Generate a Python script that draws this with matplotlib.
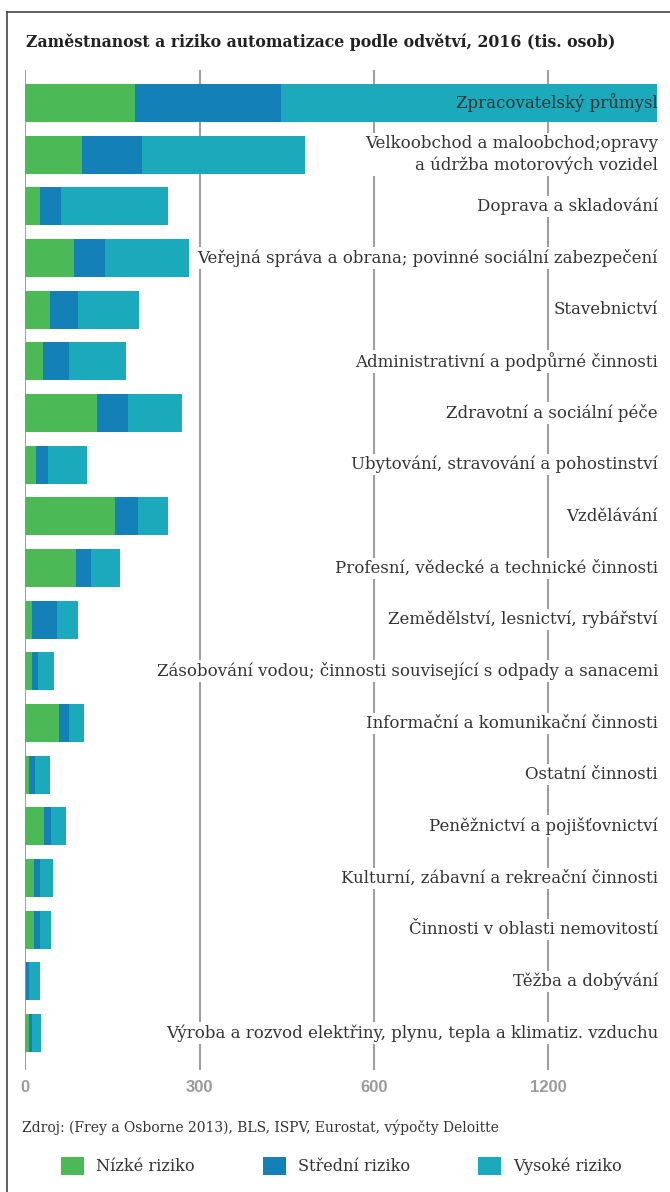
import matplotlib
matplotlib.use("Agg")
import matplotlib.pyplot as plt
from matplotlib.lines import Line2D

plt.rcParams['font.family'] = ['DejaVu Serif']

# odvětví, shora dolů
odvetvi = [
    'Zpracovatelský průmysl',
    'Velkoobchod a maloobchod;opravy\na údržba motorových vozidel',
    'Doprava a skladování',
    'Veřejná správa a obrana; povinné sociální zabezpečení',
    'Stavebnictví',
    'Administrativní a podpůrné činnosti',
    'Zdravotní a sociální péče',
    'Ubytování, stravování a pohostinství',
    'Vzdělávání',
    'Profesní, vědecké a technické činnosti',
    'Zemědělství, lesnictví, rybářství',
    'Zásobování vodou; činnosti související s odpady a sanacemi',
    'Informační a komunikační činnosti',
    'Ostatní činnosti',
    'Peněžnictví a pojišťovnictví',
    'Kulturní, zábavní a rekreační činnosti',
    'Činnosti v oblasti nemovitostí',
    'Těžba a dobývání',
    'Výroba a rozvod elektřiny, plynu, tepla a klimatiz. vzduchu',
]

# tis. osob
nizke = [189, 98, 25, 84, 42, 30, 123, 18, 154, 87, 12, 12, 58, 6, 32, 15, 15, 1, 6]
stredni = [251, 102, 36, 53, 48, 45, 53, 21, 40, 26, 43, 10, 17, 10, 12, 10, 10, 5, 5]
vysoke = [646, 282, 184, 144, 105, 98, 93, 67, 52, 50, 36, 28, 26, 26, 26, 22, 19, 19, 16]

rizika = ['Nízké riziko', 'Střední riziko', 'Vysoké riziko']
barvy = ['#4cb957', '#1380b7', '#1baabb']

# osa v originále: poslední popisek je 1200, i když leží na pozici 900
tick_pos = [0, 300, 600, 900]
tick_lab = ['0', '300', '600', '1200']

W, H = 670, 1192
fig = plt.figure(figsize=(W / 100, H / 100), dpi=100)
ax = fig.add_axes([25.3 / W, 1 - 1070 / H, 634.7 / W, 1000 / H])

y = list(range(len(odvetvi)))
zleva = [0] * len(odvetvi)
handles = []
for hodnoty, nazev, barva in zip([nizke, stredni, vysoke], rizika, barvy):
    b = ax.barh(y, hodnoty, left=zleva, height=0.735, color=barva,
                label=nazev, zorder=2, linewidth=0)
    handles.append(b)
    zleva = [a + v for a, v in zip(zleva, hodnoty)]

ax.set_xlim(0, 1092)
ax.set_ylim(18.715, -0.639)
ax.set_xticks(tick_pos)
ax.set_xticklabels(tick_lab, family='Liberation Sans', fontweight='bold',
                   fontsize=12, color='#9a9a9a')
ax.set_yticks([])
ax.tick_params(axis='x', length=0, pad=7)
ax.grid(axis='x', color='#a0a0a0', linewidth=1.5, zorder=0.5)
ax.set_axisbelow(True)
for s in ax.spines.values():
    s.set_visible(False)

for i, txt in enumerate(odvetvi):
    box = None if i == 0 else dict(facecolor='white', edgecolor='none', pad=1.5)
    ax.text(0.9968, i, txt, transform=ax.get_yaxis_transform(),
            ha='right', va='center', fontsize=12, color='#333333',
            linespacing=1.35, bbox=box, zorder=3)

fig.text(26 / W, 1 - 42 / H,
         'Zaměstnanost a riziko automatizace podle odvětví, 2016 (tis. osob)',
         ha='left', va='center', fontsize=11.3, fontweight='bold', color='#222222')

fig.text(22 / W, 1 - 1127 / H,
         'Zdroj: (Frey a Osborne 2013), BLS, ISPV, Eurostat, výpočty Deloitte',
         ha='left', va='center', fontsize=10, color='#333333')

fig.legend(handles, rizika, ncol=3, loc='center left',
           bbox_to_anchor=(61 / W, 1 - 1166 / H), frameon=False,
           borderpad=0, borderaxespad=0, fontsize=11.6,
           handlelength=1.44, handleheight=1.37, handletextpad=0.75,
           columnspacing=4.2, labelcolor='#333333')

# rámeček kolem grafu
fig.add_artist(Line2D([7 / W, 7 / W], [0, 1 - 12 / H], color='#444444', lw=1.2))
fig.add_artist(Line2D([7 / W, 1], [1 - 12 / H, 1 - 12 / H], color='#444444', lw=1.2))

fig.savefig('out.png', dpi=100, facecolor='white')
